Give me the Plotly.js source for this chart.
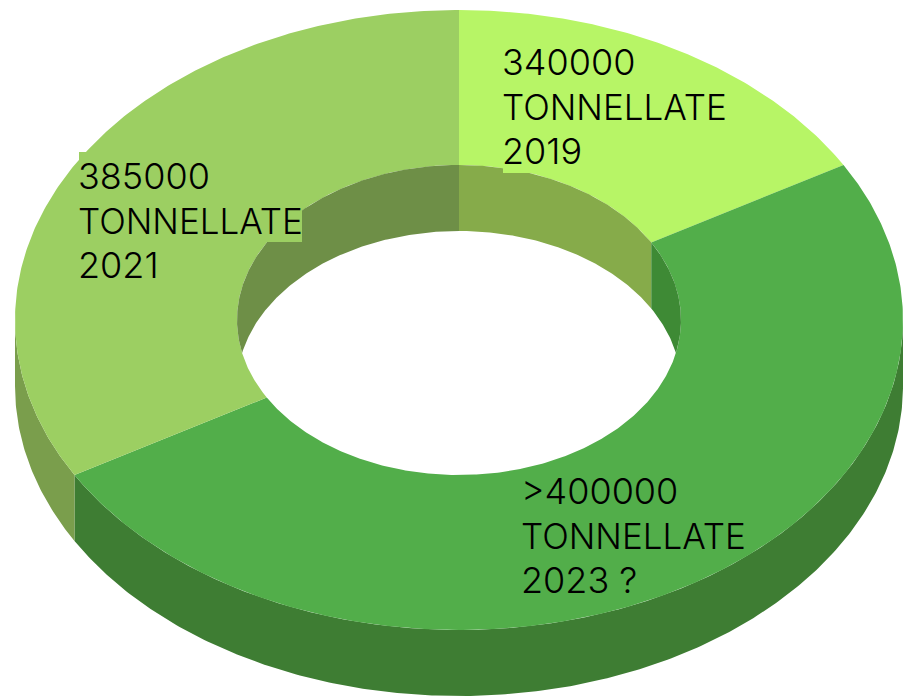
<!DOCTYPE html>
<html>
<head>
<meta charset="utf-8">
<script src="https://cdn.plot.ly/plotly-3.0.1.min.js"></script>
<style>html,body{margin:0;padding:0;background:#fff}#chart{width:903px;height:699px}</style>
</head>
<body>
<div id="chart"></div>
<script>
// Slices in clockwise order from 12 o'clock, sized as drawn in the picture
var years = ['2019', '2023', '2021'];
var sliceShares = [1, 3, 2];
var topColors = ['#B7F566', '#52AE4A', '#9CCF62'];
var innerWallColors = ['#86AB4A', '#3E8A35', '#6E8F47'];
var outerWallColors = ['#7FA34C', '#3E7D33', '#7A9E4C'];
var labelFirstLines = ['340000', '>400000', '385000'];
var labelUnit = 'TONNELLATE';
var labelLastLines = ['2019', '2023 ?', '2021'];
var labelLeft = [502, 521, 78];
var labelTop = [62, 491, 176];

var cx = 459, cy = 320, rx = 444, ry = 310, holeRatio = 0.5, depth = 66, lineGap = 44.5;

function arc(a1, a2, scale, dy) {
  var xs = [], ys = [], n = Math.max(2, Math.ceil(Math.abs(a2 - a1) * 2));
  for (var i = 0; i <= n; i++) {
    var t = (a1 + (a2 - a1) * i / n) * Math.PI / 180;
    xs.push(cx + rx * scale * Math.sin(t));
    ys.push(cy - ry * scale * Math.cos(t) + dy);
  }
  return {x: xs, y: ys};
}
function band(a, b) {
  return {x: a.x.concat(b.x), y: a.y.concat(b.y)};
}
function poly(p, color, name) {
  return {type: 'scatter', mode: 'lines', x: p.x.concat([p.x[0]]), y: p.y.concat([p.y[0]]),
    fill: 'toself', fillcolor: color, line: {width: 0, color: color}, hoverinfo: 'skip',
    showlegend: false, name: name};
}

var total = sliceShares.reduce(function (s, v) { return s + v; }, 0);
var starts = [], a = 0;
sliceShares.forEach(function (v) { starts.push(a); a += v / total * 360; });

var traces = [];
// outer wall: front half of the ring (90 to 270 degrees)
years.forEach(function (y, i) {
  var s = Math.max(starts[i], 90), e = Math.min(starts[i] + sliceShares[i] / total * 360, 270);
  if (e > s) traces.push(poly(band(arc(s, e, 1, 0), arc(e, s, 1, depth)), outerWallColors[i], y + ' outer'));
});
// top face
years.forEach(function (y, i) {
  var s = starts[i], e = s + sliceShares[i] / total * 360;
  traces.push(poly(band(arc(s, e, 1, 0), arc(e, s, holeRatio, 0)), topColors[i], y));
});
// inner wall: the part of the hole's far side that is seen, ending where the
// shifted lower rim crosses the upper rim
var cross = Math.acos(depth / 2 / (ry * holeRatio)) * 180 / Math.PI; // angle on the lower rim
var upper = 180 - cross;                                             // same point on the upper rim
years.forEach(function (y, i) {
  var s = starts[i], e = s + sliceShares[i] / total * 360;
  if (s < 90) { // right of 12 o'clock
    var e2 = Math.min(e, upper), b2 = Math.min(e, cross);
    traces.push(poly(band(arc(s, e2, holeRatio, 0), arc(b2, s, holeRatio, depth)), innerWallColors[i], y + ' inner'));
  }
  if (e > 270) { // left of 12 o'clock
    traces.push(poly(band(arc(360 - upper, e, holeRatio, 0), arc(e, 360 - cross, holeRatio, depth)), innerWallColors[i], y + ' inner'));
  }
});

var annotations = [];
years.forEach(function (y, i) {
  [labelFirstLines[i], labelUnit, labelLastLines[i]].forEach(function (line, j) {
    annotations.push({x: labelLeft[i], y: labelTop[i] + j * lineGap, xref: 'x', yref: 'y', text: line,
      showarrow: false, xanchor: 'left', yanchor: 'middle', borderpad: 0, borderwidth: 0,
      font: {family: 'Inter, "Open Sans", sans-serif', size: j === 1 ? 35 : 36, color: '#000', weight: 300}});
  });
});

Plotly.newPlot('chart', traces, {
  width: 903, height: 699, margin: {l: 0, r: 0, t: 0, b: 0, pad: 0},
  paper_bgcolor: '#fff', plot_bgcolor: '#fff', showlegend: false,
  xaxis: {range: [0, 903], visible: false, fixedrange: true},
  yaxis: {range: [699, 0], visible: false, fixedrange: true},
  shapes: [
    {type: 'rect', xref: 'x', yref: 'y', x0: 79, x1: 302, y0: 152, y1: 242, fillcolor: topColors[2], line: {width: 0}},
    {type: 'rect', xref: 'x', yref: 'y', x0: 503, x1: 532, y0: 150, y1: 173, fillcolor: topColors[0], line: {width: 0}}
  ],
  annotations: annotations
}, {staticPlot: true, displayModeBar: false});
</script>
</body>
</html>
